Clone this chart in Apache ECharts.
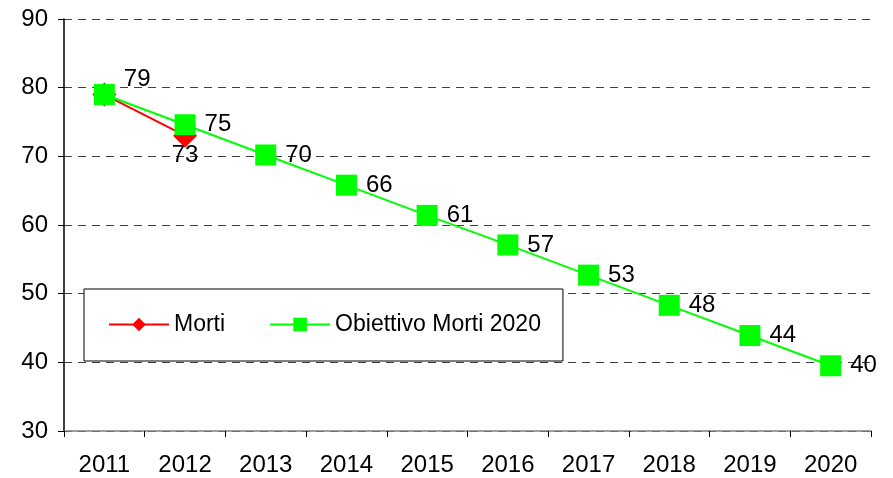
<!DOCTYPE html>
<html>
<head>
<meta charset="utf-8">
<script src="https://cdn.jsdelivr.net/npm/echarts@6/dist/echarts.min.js"></script>
<style>
  html, body { margin: 0; padding: 0; background: #fff; }
  #chart { width: 893px; height: 478px; }
</style>
</head>
<body>
<div id="chart"></div>
<script>
var years = ['2011', '2012', '2013', '2014', '2015', '2016', '2017', '2018', '2019', '2020']
var morti = [79, 73, null, null, null, null, null, null, null, null]
var obiettivo = [79, 74.6, 70.2, 65.8, 61.4, 57.1, 52.7, 48.3, 43.9, 39.5]

var chart = echarts.init(document.getElementById('chart'))
var font = 'Arial, "Liberation Sans", sans-serif'

chart.setOption({
  animation: false,
  textStyle: { fontFamily: font },
  grid: { left: 64, right: 22, top: 19, bottom: 47 },
  legend: {
    left: 84,
    top: 289,
    padding: [24, 22, 25, 24],
    borderColor: '#000',
    borderWidth: 1,
    backgroundColor: '#fff',
    itemWidth: 60,
    itemHeight: 17,
    itemGap: 44,
    textStyle: { fontSize: 23, color: '#000', fontFamily: font },
    data: ['Morti', 'Obiettivo Morti 2020']
  },
  xAxis: {
    type: 'category',
    data: years,
    boundaryGap: true,
    axisLine: { lineStyle: { color: '#808080', width: 1.5 } },
    axisTick: { show: true, length: 6, lineStyle: { color: '#000' } },
    axisLabel: { fontSize: 24, color: '#000', margin: 22 }
  },
  yAxis: {
    type: 'value',
    min: 30,
    max: 90,
    interval: 10,
    axisLine: { show: true, lineStyle: { color: '#000', width: 1.5 } },
    axisTick: { show: true, length: 6, lineStyle: { color: '#000' } },
    axisLabel: { fontSize: 24, color: '#000', margin: 16 },
    splitLine: { lineStyle: { color: '#404040', type: [8, 6], width: 1 } }
  },
  series: [
    {
      name: 'Morti',
      type: 'line',
      data: morti.map(function (v, i) {
        return { value: v, label: { show: i === 1 } }
      }),
      symbol: 'diamond',
      symbolSize: 24,
      lineStyle: { color: '#ff0000', width: 2 },
      itemStyle: { color: '#ff0000' },
      label: {
        position: 'bottom',
        distance: -4,
        fontSize: 24,
        color: '#000',
        formatter: function (p) { return Math.round(p.value) }
      },
      z: 2
    },
    {
      name: 'Obiettivo Morti 2020',
      type: 'line',
      data: obiettivo.map(function (v, i) {
        return i === 0 ? { value: v, label: { offset: [0, -15] } } : v
      }),
      symbol: 'rect',
      symbolSize: 21,
      lineStyle: { color: '#00ff00', width: 2 },
      itemStyle: { color: '#00ff00' },
      label: {
        show: true,
        position: 'right',
        distance: 9,
        fontSize: 24,
        color: '#000',
        formatter: function (p) { return Math.round(p.value) }
      },
      z: 3
    }
  ]
})
</script>
</body>
</html>
